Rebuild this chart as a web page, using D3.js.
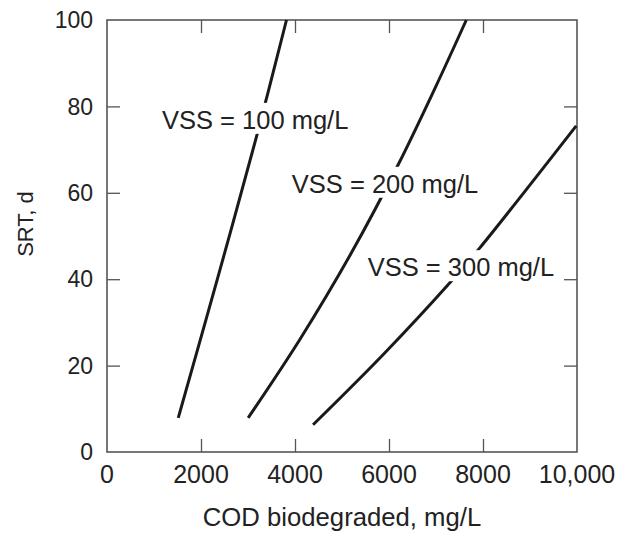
<!DOCTYPE html>
<html>
<head>
<meta charset="utf-8">
<script src="https://d3js.org/d3.v7.min.js"></script>
<style>
  body { margin: 0; background: #fff; }
  svg { display: block; font-family: "Liberation Sans", Arial, Helvetica, sans-serif; }
</style>
</head>
<body>
<div id="chart"></div>
<script>
// data: COD biodegraded (mg/L) vs SRT (d)
var vss100X = [1516, 2345, 3181, 3819];
var vss100Y = [7.9, 39.9, 73.0, 100];
var vss200X = [3003, 4100, 5200, 6200, 7000, 7645];
var vss200Y = [7.9, 26.0, 46.1, 66.6, 84.7, 100];
var vss300X = [4385, 5873, 7290, 7928, 9983];
var vss300Y = [6.3, 22.5, 39.1, 47.2, 75.5];

var seriesNames = ["VSS = 100 mg/L", "VSS = 200 mg/L", "VSS = 300 mg/L"];
// where each label sits (data units: x start, baseline)
var labelX = [1169, 3932, 5547];
var labelY = [74.8, 60, 40.7];

var xTicks = [0, 2000, 4000, 6000, 8000, 10000];
var yTicks = [0, 20, 40, 60, 80, 100];

var width = 619, height = 533;
var margin = {left: 107, right: 42, top: 20, bottom: 81};

var svg = d3.select("#chart").append("svg")
    .attr("width", width)
    .attr("height", height);

var x = d3.scaleLinear().domain([0, 10000]).range([margin.left, width - margin.right]);
var y = d3.scaleLinear().domain([0, 100]).range([height - margin.bottom, margin.top]);

var frameColor = "#555";
var tickLen = 13;

// inward ticks on all four sides
var inner = xTicks.slice(1, -1);
var innerY = yTicks.slice(1, -1);

function styleTicks(g) {
    g.select(".domain").remove();
    g.selectAll("line").attr("stroke", frameColor).attr("stroke-width", 1.3);
}

svg.append("g")
    .attr("transform", "translate(0," + y(0) + ")")
    .call(d3.axisBottom(x).tickValues(inner).tickSize(-tickLen).tickFormat(""))
    .call(styleTicks);
svg.append("g")
    .attr("transform", "translate(0," + y(100) + ")")
    .call(d3.axisTop(x).tickValues(inner).tickSize(-tickLen).tickFormat(""))
    .call(styleTicks);
svg.append("g")
    .attr("transform", "translate(" + x(0) + ",0)")
    .call(d3.axisLeft(y).tickValues(innerY).tickSize(-tickLen).tickFormat(""))
    .call(styleTicks);
svg.append("g")
    .attr("transform", "translate(" + x(10000) + ",0)")
    .call(d3.axisRight(y).tickValues(innerY).tickSize(-tickLen).tickFormat(""))
    .call(styleTicks);

// frame
svg.append("rect")
    .attr("x", x(0)).attr("y", y(100))
    .attr("width", x(10000) - x(0)).attr("height", y(0) - y(100))
    .attr("fill", "none").attr("stroke", frameColor).attr("stroke-width", 1.6);

// tick labels
svg.append("g").selectAll("text")
    .data(xTicks).enter().append("text")
    .attr("x", function(d) { return x(d); })
    .attr("y", y(0) + 31)
    .attr("text-anchor", "middle")
    .style("font-size", "25px")
    .attr("fill", "#222")
    .text(function(d) { return d == 10000 ? "10,000" : d; });

svg.append("g").selectAll("text")
    .data(yTicks).enter().append("text")
    .attr("x", x(0) - 14)
    .attr("y", function(d) { return y(d); })
    .attr("dy", "0.36em")
    .attr("text-anchor", "end")
    .style("font-size", "23px")
    .attr("fill", "#222")
    .text(function(d) { return d; });

// axis titles
svg.append("text")
    .attr("x", (x(0) + x(10000)) / 2)
    .attr("y", 526)
    .attr("text-anchor", "middle")
    .style("font-size", "25.7px")
    .attr("fill", "#222")
    .text("COD biodegraded, mg/L");

svg.append("text")
    .attr("transform", "translate(33," + 224 + ") rotate(-90)")
    .attr("text-anchor", "middle")
    .style("font-size", "22px")
    .attr("fill", "#222")
    .text("SRT, d");

// curves
var curves = [[vss100X, vss100Y], [vss200X, vss200Y], [vss300X, vss300Y]];
var line = d3.line()
    .x(function(d) { return x(d[0]); })
    .y(function(d) { return y(d[1]); })
    .curve(d3.curveCatmullRom);

curves.forEach(function(c) {
    var pts = c[0].map(function(v, i) { return [v, c[1][i]]; });
    svg.append("path")
        .datum(pts)
        .attr("d", line)
        .attr("fill", "none")
        .attr("stroke", "#1a1a1a")
        .attr("stroke-width", 3);
});

// labels with white box that breaks the curve
var fs = 25.5;
seriesNames.forEach(function(name, i) {
    var g = svg.append("g");
    var bg = g.append("rect").attr("fill", "#fff");
    var t = g.append("text")
        .attr("x", x(labelX[i]))
        .attr("y", y(labelY[i]))
        .style("font-size", fs + "px")
        .attr("fill", "#222")
        .text(name);
    var bb = t.node().getBBox();
    bg.attr("x", bb.x - 2).attr("y", bb.y - 3)
      .attr("width", bb.width + 4).attr("height", bb.height + 3);
});
</script>
</body>
</html>
